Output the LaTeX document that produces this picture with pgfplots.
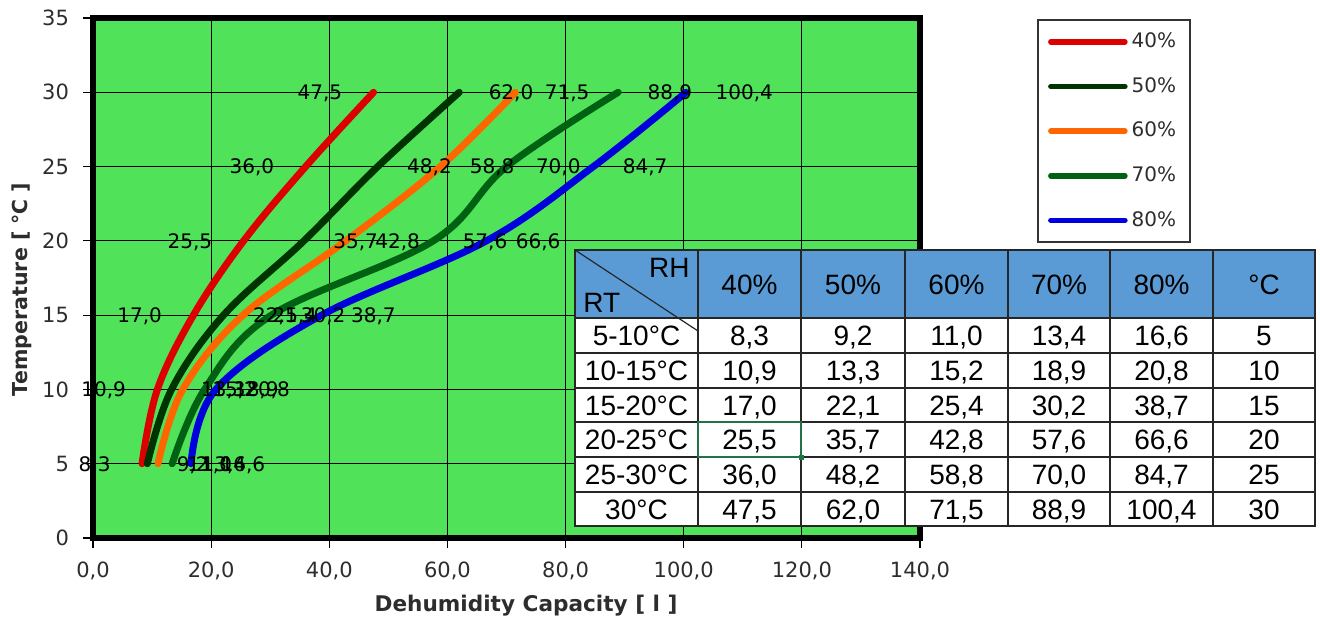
\documentclass[border=0pt]{standalone}
\usepackage{pgfplots}
\pgfplotsset{compat=1.18}
\usepackage{fontspec}
\setmainfont{DejaVu Sans}
\newfontfamily\tablefont{Liberation Sans}
\definecolor{bggreen}{RGB}{80,227,90}
\definecolor{cforty}{RGB}{220,0,0}
\definecolor{cfifty}{RGB}{0,51,0}
\definecolor{csixty}{RGB}{255,102,0}
\definecolor{cseventy}{RGB}{0,97,18}
\definecolor{ceighty}{RGB}{0,0,220}
\definecolor{headblue}{RGB}{91,155,213}
\definecolor{selgreen}{RGB}{33,115,70}
\definecolor{txtgray}{RGB}{45,45,45}

\pgfplotstableread{
T   h40   h50   h60   h70   h80
5   8.3   9.2   11.0  13.4  16.6
10  10.9  13.3  15.2  18.9  20.8
15  17.0  22.1  25.4  30.2  38.7
20  25.5  35.7  42.8  57.6  66.6
25  36.0  48.2  58.8  70.0  84.7
30  47.5  62.0  71.5  88.9  100.4
}\capacity

\begin{document}
\begin{tikzpicture}
\useasboundingbox (0,0) rectangle (660pt,308.5pt);
\begin{axis}[
  at={(46.5pt,39.5pt)}, anchor=south west,
  scale only axis, width=413.5pt, height=260pt,
  xmin=0, xmax=140, ymin=0, ymax=35,
  xtick={0,20,...,140}, ytick={0,5,...,35},
  grid=major, major grid style={black, line width=0.6pt},
  axis line style={line width=3pt, black},
  axis background/.style={fill=bggreen},
  tick align=outside, tick pos=left, major tick length=5pt,
  tick style={black, line width=0.6pt},
  /pgf/number format/fixed, /pgf/number format/fixed zerofill,
  /pgf/number format/precision=1, /pgf/number format/use comma,
  /pgf/number format/assume math mode=true,
  xticklabel style={font=\fontsize{10.5}{12}\selectfont, text=txtgray, yshift=-3.5pt},
  yticklabel style={font=\fontsize{10.5}{12}\selectfont, text=txtgray, xshift=-3.5pt,
    /pgf/number format/fixed zerofill=false},
  xlabel={Dehumidity Capacity [ l ]},
  xlabel style={font=\bfseries\fontsize{10.8}{12}\selectfont, text=txtgray,
    at={(axis description cs:0.5236,0)}, anchor=base, yshift=-36.5pt},
  ylabel={Temperature [ ℃ ]},
  ylabel style={font=\bfseries\fontsize{10.3}{12}\selectfont, text=txtgray,
    at={(axis description cs:-0.0786,0.478)}, anchor=base, rotate=0},
  legend style={at={(1.1418,0.998)}, anchor=north west, draw=black!80,
    line width=0.8pt, fill=white, font=\fontsize{10}{12}\selectfont,
    text=txtgray, inner xsep=5pt, inner ysep=4.5pt, row sep=9.4pt},
  legend cell align=left,
  legend image code/.code={\draw[#1, line width=2.8pt, line cap=round] (0pt,0pt) -- (37pt,0pt);},
  every axis plot/.append style={line width=3.5pt, line cap=round, smooth, tension=0.6, no markers},
  nodes near coords, point meta=x,
  nodes near coords align={anchor=base west},
  every node near coord/.append style={font=\fontsize{10}{12}\selectfont, text=black,
    inner sep=0pt, anchor=base west, xshift=13pt, yshift=-3.65pt},
]
\addplot[cforty, every node near coord/.append style={anchor=base east, xshift=-27pt}] table[x=h40, y=T] {\capacity};
\addlegendentry{40\%}
\addplot[cfifty] table[x=h50, y=T] {\capacity};
\addlegendentry{50\%}
\addplot[csixty] table[x=h60, y=T] {\capacity};
\addlegendentry{60\%}
\addplot[cseventy] table[x=h70, y=T] {\capacity};
\addlegendentry{70\%}
\addplot[ceighty] table[x=h80, y=T] {\capacity};
\addlegendentry{80\%}
\end{axis}

% data table (pixel coordinates, y downwards)
\begin{scope}[shift={(0pt,308.5pt)}, x=0.5pt, y=-0.5pt]
  \fill[white] (574,249) rectangle (1316,527);
  \fill[headblue] (575,250) rectangle (1315,318);
  \draw[black!85, line width=0.6pt] (575,250) -- (698,331);
  \foreach \yy in {318,353,388,422,457,492}
    \draw[black!85, line width=0.6pt] (575,\yy) -- (1315,\yy);
  \foreach \xx in {698,801,905,1008,1110,1213}
    \draw[black!85, line width=0.6pt] (\xx,250) -- (\xx,526);
  \draw[black!85, line width=0.8pt] (575,250) rectangle (1315,526);
  \begin{scope}[every node/.style={font=\tablefont\fontsize{14}{16}\selectfont, inner sep=0pt, anchor=base}]
    \node[anchor=base east] at (690,277) {RH};
    \node[anchor=base west] at (583,312) {RT};
    \foreach \t/\cx in {40\%/749.5, 50\%/853, 60\%/956.5, 70\%/1059, 80\%/1161.5, °C/1264}
      \node at (\cx,294) {\t};
    \foreach \cy/\rt/\a/\b/\c/\d/\e/\f in {
      {345.5/5-10°C/8,3/9,2/11,0/13,4/16,6/5},
      {380.5/10-15°C/10,9/13,3/15,2/18,9/20,8/10},
      {415/15-20°C/17,0/22,1/25,4/30,2/38,7/15},
      {449.5/20-25°C/25,5/35,7/42,8/57,6/66,6/20},
      {484.5/25-30°C/36,0/48,2/58,8/70,0/84,7/25},
      {519/30°C/47,5/62,0/71,5/88,9/100,4/30}} {
      \node at (636.5,\cy) {\rt};
      \node at (749.5,\cy) {\a};
      \node at (853,\cy) {\b};
      \node at (956.5,\cy) {\c};
      \node at (1059,\cy) {\d};
      \node at (1161.5,\cy) {\e};
      \node at (1264,\cy) {\f};
    }
  \end{scope}
  \draw[selgreen, line width=1pt] (698,422) rectangle (801,457);
  \fill[selgreen] (798.5,454.5) rectangle (803.5,459.5);
\end{scope}
\end{tikzpicture}
\end{document}
